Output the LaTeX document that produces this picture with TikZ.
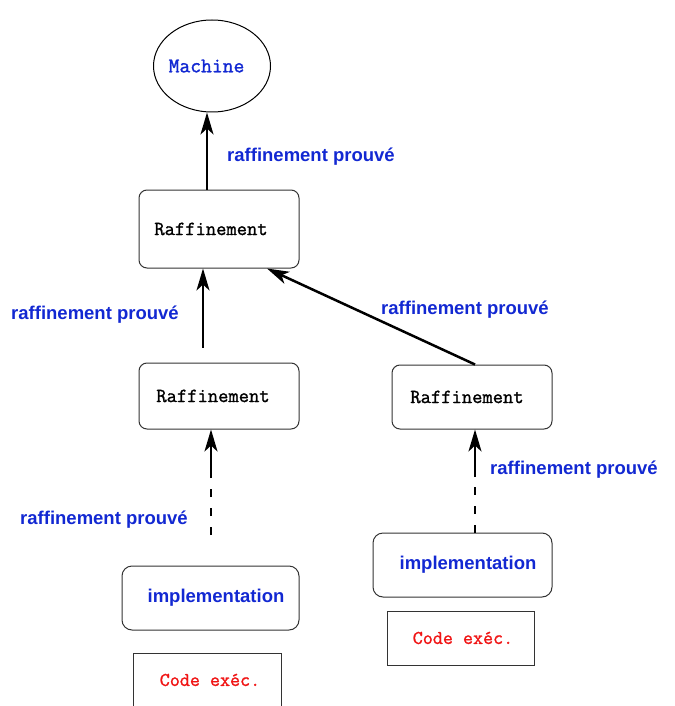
\documentclass[tikz,border=0pt]{standalone}
\usepackage{fontspec}
\setsansfont{Liberation Sans}
\newfontfamily\codett[FakeBold=1.3]{Latin Modern Mono}
\usepackage{tikz}
\usetikzlibrary{shapes,arrows.meta,positioning,calc}
\definecolor{proofblue}{RGB}{18,40,210}
\definecolor{execred}{RGB}{240,20,20}

\begin{document}
\begin{tikzpicture}[x=1pt, y=-1pt, >={Stealth[length=22pt,width=13pt,inset=6pt]},
    refbox/.style={rectangle, rounded corners=8pt, draw=black!80, line width=1pt, minimum width=160pt, minimum height=66pt, inner sep=0pt, font=\fontsize{20}{20}\selectfont\codett},
    implbox/.style={rectangle, rounded corners=10pt, draw=black!80, line width=1pt, minimum height=64pt, inner sep=0pt, text=proofblue, font=\fontsize{18.5}{20}\selectfont\sffamily\bfseries},
    codebox/.style={rectangle, draw=black!80, line width=1pt, minimum width=148pt, minimum height=54pt, inner sep=0pt, text=execred, font=\fontsize{19.5}{20}\selectfont\codett},
    proof/.style={inner sep=0pt, text=proofblue, font=\fontsize{18.5}{20}\selectfont\sffamily\bfseries},
    refine/.style={->, line width=2.5pt},
    dashpart/.style={line width=2.5pt, dash pattern=on 8pt off 11pt}
]
    \useasboundingbox (0,0) rectangle (674,706);

    \node[ellipse, draw, line width=1pt, minimum width=117pt, minimum height=92pt, inner sep=-4pt, text=proofblue, font=\fontsize{21}{20}\selectfont\codett] (machine) at (212,66) {Machine\kern11pt};
    \node[refbox, minimum height=78pt] (raf1) at (219,229) {Raffinement\kern16pt};
    \node[refbox] (raf2) at (219,396) {Raffinement\kern12pt};
    \node[refbox, minimum height=64pt] (raf3) at (472,397) {Raffinement\kern10pt};
    \node[implbox, minimum width=177pt] (impl1) at (210.5,598) {\kern11pt implementation};
    \node[implbox, minimum width=179pt] (impl2) at (462.5,565) {\kern11pt implementation};
    \node[codebox] (code1) at (207,680) {\kern6pt Code exéc.};
    \node[codebox, minimum width=147pt] (code2) at (460.5,638) {\kern5pt Code exéc.};

    \node[proof] (lbl1) at (311,157) {raffinement prouvé};
    \node[proof] (lbl2) at (95,315) {raffinement prouvé};
    \node[proof] (lbl3) at (465,310) {raffinement prouvé};
    \node[proof] (lbl4) at (104,520) {raffinement prouvé};
    \node[proof] (lbl5) at (574,470) {raffinement prouvé};

    \coordinate (dl) at (211,535);
    \coordinate (ml) at (211,478);
    \coordinate (mr) at (475,477);

    \draw[refine] ([xshift=-5pt]raf1.north -| machine.south) -- ([xshift=-5pt]machine.south);
    \draw[refine] ([xshift=-16pt,yshift=15pt]raf2.north) -- ([xshift=-16pt]raf1.south);
    \draw[refine] ([xshift=3pt]raf3.north) -- ([xshift=48pt]raf1.south);
    \draw[dashpart] (dl) -- (ml);
    \draw[refine] (ml) -- (raf2.south -| ml);
    \draw[dashpart] (impl2.north -| mr) -- (mr);
    \draw[refine] (mr) -- (raf3.south -| mr);
\end{tikzpicture}
\end{document}
